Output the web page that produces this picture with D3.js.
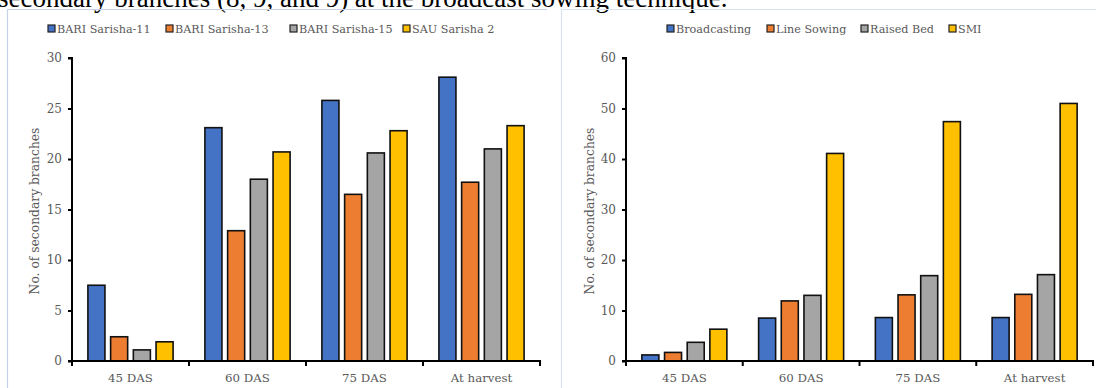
<!DOCTYPE html>
<html>
<head>
<meta charset="utf-8">
<script src="https://cdn.jsdelivr.net/npm/d3@7"></script>
<style>
  body { margin: 0; background: #fff; }
  svg { display: block; }
  text { font-family: "DejaVu Serif", serif; fill: #595959; }
</style>
</head>
<body>
<svg id="chart" width="1096" height="388"></svg>
<script>
// stages on the x axis (both charts)
const stages = ["45 DAS", "60 DAS", "75 DAS", "At harvest"];

// left chart: varieties
const varieties = ["BARI Sarisha-11", "BARI Sarisha-13", "BARI Sarisha-15", "SAU Sarisha 2"];
const varietyValues = [
    [7.5, 23.1, 25.8, 28.1],   // BARI Sarisha-11
    [2.4, 12.9, 16.5, 17.7],   // BARI Sarisha-13
    [1.1, 18.0, 20.6, 21.0],   // BARI Sarisha-15
    [1.9, 20.7, 22.8, 23.3]    // SAU Sarisha 2
];
const leftTicks = [0, 5, 10, 15, 20, 25, 30];

// right chart: sowing techniques
const techniques = ["Broadcasting", "Line Sowing", "Raised Bed", "SMI"];
const techniqueValues = [
    [1.2, 8.5, 8.6, 8.6],      // Broadcasting
    [1.7, 11.9, 13.1, 13.2],   // Line Sowing
    [3.7, 13.0, 16.9, 17.1],   // Raised Bed
    [6.3, 41.1, 47.4, 51.0]    // SMI
];
const rightTicks = [0, 10, 20, 30, 40, 50, 60];

const colors = ["#4472C4", "#ED7D31", "#A5A5A5", "#FFC000"];

const svg = d3.select("#chart");

// caption from the page above, cut by the crop
svg.append("text")
    .attr("x", -2)
    .attr("y", 7)
    .style("font-family", "'Liberation Serif', serif")
    .style("font-size", "27px")
    .style("fill", "#000")
    .text("secondary branches (8, 9, and 9) at the broadcast sowing technique.");

// panel frames
svg.append("path")
    .attr("d", "M7.5,400 V9.5 H547")
    .attr("fill", "none")
    .attr("stroke", "#c5d3ea")
    .attr("stroke-width", 1.2);
svg.append("path")
    .attr("d", "M561.5,400 V9.5 H1100")
    .attr("fill", "none")
    .attr("stroke", "#d9e2f1")
    .attr("stroke-width", 1.2);

function drawChart(opt) {
    const g = svg.append("g");

    const x = d3.scaleBand()
        .domain(stages)
        .range([opt.x0, opt.x1]);

    const xInner = d3.scaleBand()
        .domain(opt.series)
        .range([0, x.bandwidth()])
        .paddingInner(0.25)
        .paddingOuter(0.7);

    const y = d3.scaleLinear()
        .domain([0, opt.max])
        .range([361, 58]);

    // bars
    opt.series.forEach((s, i) => {
        g.selectAll(null)
            .data(opt.values[i])
            .enter()
            .append("rect")
            .attr("x", (d, j) => x(stages[j]) + xInner(s))
            .attr("y", d => y(d))
            .attr("width", xInner.bandwidth())
            .attr("height", d => y(0) - y(d))
            .attr("fill", colors[i])
            .attr("stroke", "#111")
            .attr("stroke-width", 1.6);
    });

    // y axis
    const yAxis = g.append("g")
        .attr("transform", `translate(${opt.x0},0)`)
        .call(d3.axisLeft(y).tickValues(opt.ticks).tickSize(4).tickPadding(6));
    yAxis.select(".domain").attr("stroke", "#000").attr("stroke-width", 2)
        .attr("d", `M-4,${y(opt.max)}H0V${y(0)}`);
    yAxis.selectAll(".tick line").attr("stroke", "#000").attr("stroke-width", 2);
    yAxis.selectAll(".tick text")
        .style("font-family", "'DejaVu Serif', serif")
        .style("font-size", "12px")
        .attr("fill", "#595959");

    // x axis: ticks sit on the band boundaries
    const xAxis = g.append("g")
        .attr("transform", `translate(0,${y(0)})`);
    xAxis.append("line")
        .attr("x1", opt.x0 - 4).attr("x2", opt.x1 + 1)
        .attr("stroke", "#000").attr("stroke-width", 2);
    xAxis.selectAll(".xt")
        .data(stages.concat(["end"]))
        .enter()
        .append("line")
        .attr("x1", (d, i) => i < stages.length ? x(d) : opt.x1)
        .attr("x2", (d, i) => i < stages.length ? x(d) : opt.x1)
        .attr("y1", 0).attr("y2", 5)
        .attr("stroke", "#000").attr("stroke-width", 2);
    xAxis.selectAll(".xl")
        .data(stages)
        .enter()
        .append("text")
        .attr("x", d => x(d) + x.bandwidth() / 2)
        .attr("y", 21)
        .attr("text-anchor", "middle")
        .style("font-size", "11.8px")
        .text(d => d);

    // y title
    g.append("text")
        .attr("transform", `translate(${opt.titleX},211) rotate(-90)`)
        .attr("text-anchor", "middle")
        .style("font-size", "12.3px")
        .text("No. of secondary branches");

    // legend
    const leg = g.selectAll(".leg")
        .data(opt.series)
        .enter()
        .append("g")
        .attr("transform", (d, i) => `translate(${opt.legendX[i]},25)`);
    leg.append("rect")
        .attr("width", 7).attr("height", 7)
        .attr("fill", (d, i) => colors[i])
        .attr("stroke", "#222").attr("stroke-width", 1.2);
    leg.append("text")
        .attr("x", 9)
        .attr("y", 8)
        .style("font-size", "11.2px")
        .text(d => d);
}

drawChart({
    series: varieties, values: varietyValues, ticks: leftTicks, max: 30,
    x0: 72, x1: 540, titleX: 39,
    legendX: [48, 166, 290, 403]
});

drawChart({
    series: techniques, values: techniqueValues, ticks: rightTicks, max: 60,
    x0: 626, x1: 1093, titleX: 594,
    legendX: [667, 767, 861, 949]
});
</script>
</body>
</html>
